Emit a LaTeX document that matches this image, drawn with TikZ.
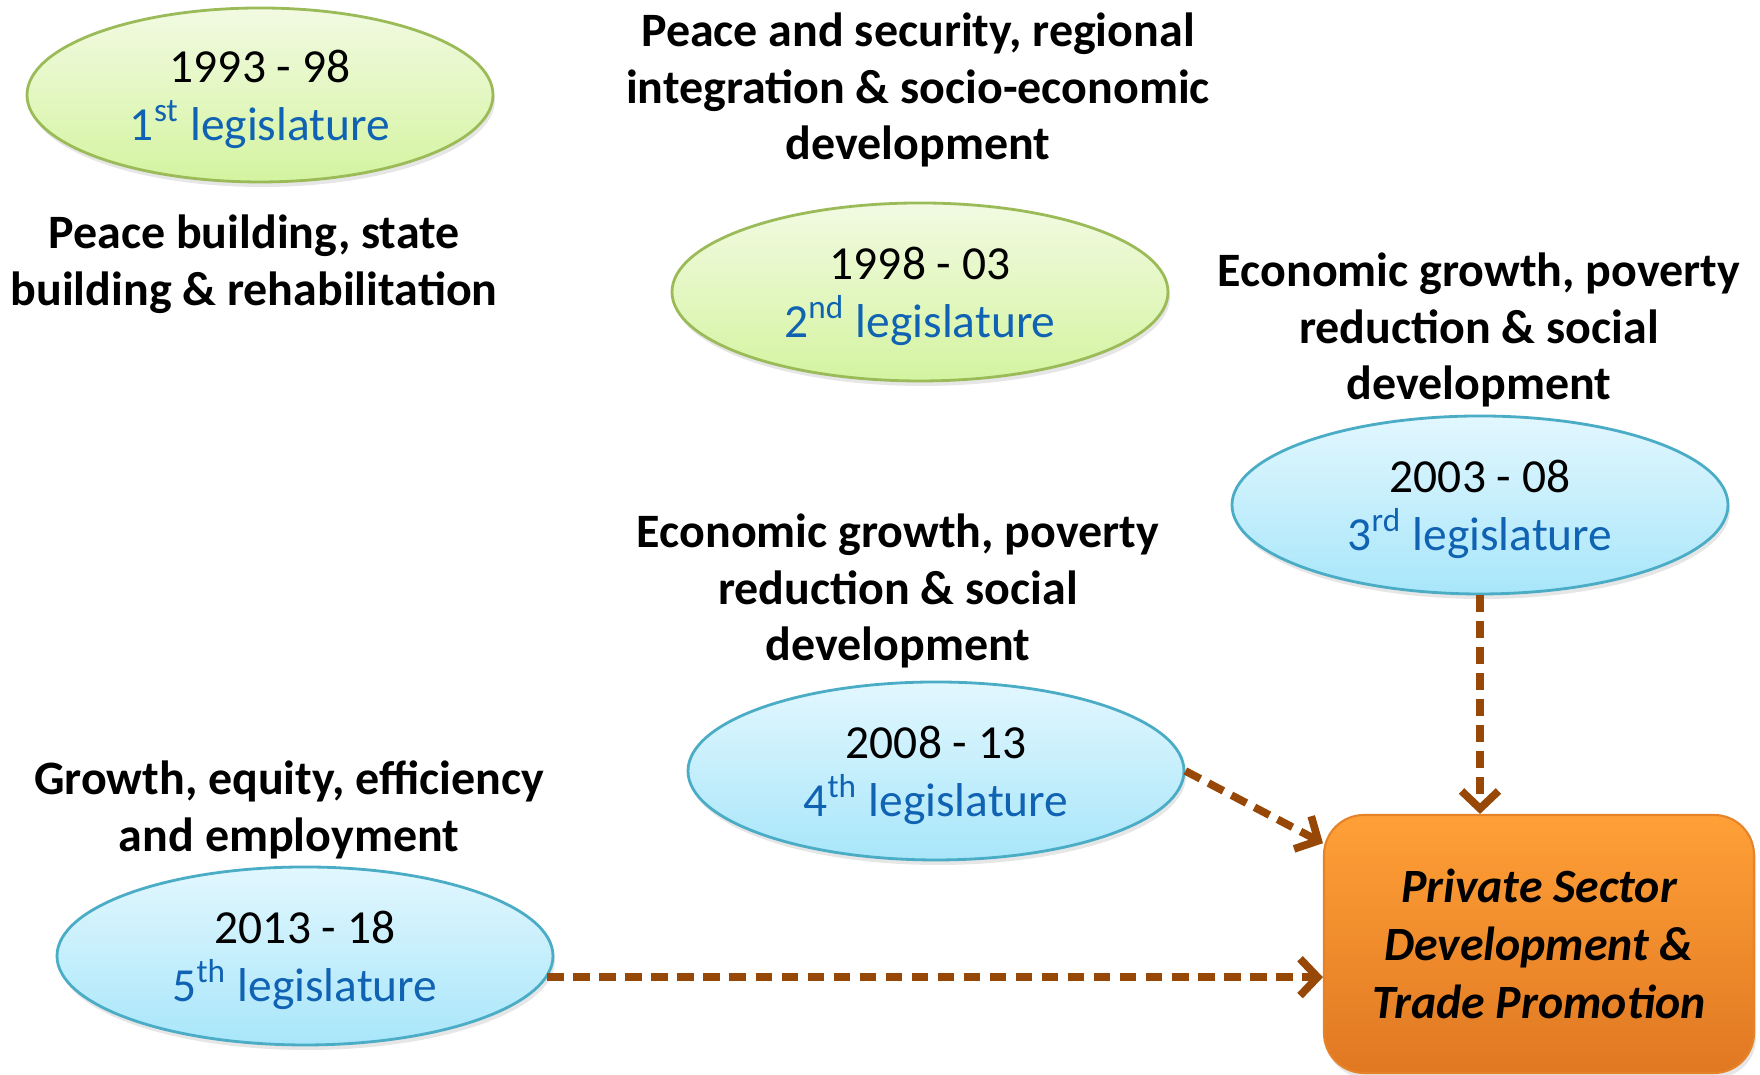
\documentclass[tikz,border=0pt]{standalone}
\usepackage{fontspec}
\setmainfont{Carlito}
\usepackage{tikz}
\usetikzlibrary{shapes.geometric,arrows.meta,shadows}

\definecolor{greentop}{RGB}{242,250,226}
\definecolor{greenbottom}{RGB}{212,244,160}
\definecolor{greenedge}{RGB}{155,187,89}
\definecolor{bluetop}{RGB}{226,247,254}
\definecolor{bluebottom}{RGB}{168,230,250}
\definecolor{blueedge}{RGB}{75,172,198}
\definecolor{legblue}{RGB}{16,98,178}
\definecolor{orangetop}{RGB}{255,160,55}
\definecolor{orangebottom}{RGB}{224,120,34}
\definecolor{orangeedge}{RGB}{230,130,40}
\definecolor{feedbrown}{RGB}{151,72,6}

\begin{document}
\begin{tikzpicture}[
        era/.style={ellipse, inner sep=0pt, line width=0.8pt, align=center,
            minimum width=4.96cm, minimum height=1.78cm, text depth=0pt,
            font=\fontsize{13.5}{16.6}\selectfont,
            drop shadow={shadow xshift=0.02cm, shadow yshift=-0.05cm, opacity=0.2}},
        earlyera/.style={era, draw=greenedge, top color=greentop, bottom color=greenbottom},
        lateera/.style={era, draw=blueedge, top color=bluetop, bottom color=bluebottom},
        theme/.style={align=center, font=\bfseries\fontsize{13.65}{16.2}\selectfont},
        goalbox/.style={rectangle, rounded corners=0.4cm, align=center, line width=0.6pt,
            minimum width=4.30cm, minimum height=2.58cm,
            draw=orangeedge, top color=orangetop, bottom color=orangebottom,
            drop shadow={shadow xshift=0.02cm, shadow yshift=-0.05cm, opacity=0.2},
            font=\bfseries\itshape\fontsize{13.6}{16.5}\selectfont},
        feed/.style={draw=feedbrown, line width=2.2pt, dash pattern=on 4.8pt off 2.6pt,
            -{Straight Barb[length=5pt,width=10.5pt]}}
    ]
        \useasboundingbox (0, 0) rectangle (17.6, 10.75);

        \node[earlyera, minimum width=4.66cm, minimum height=1.74cm] (leg1) at (2.60, 9.80)
            {1993 - 98\\ \textcolor{legblue}{1\textsuperscript{st} legislature}};
        \node[earlyera] (leg2) at (9.20, 7.83)
            {1998 - 03\\ \textcolor{legblue}{2\textsuperscript{nd} legislature}};
        \node[lateera] (leg3) at (14.80, 5.70)
            {2003 - 08\\ \textcolor{legblue}{3\textsuperscript{rd} legislature}};
        \node[lateera] (leg4) at (9.36, 3.04)
            {2008 - 13\\ \textcolor{legblue}{4\textsuperscript{th} legislature}};
        \node[lateera] (leg5) at (3.05, 1.19)
            {2013 - 18\\ \textcolor{legblue}{5\textsuperscript{th} legislature}};

        \node[theme] (theme1) at (2.54, 8.11) {Peace building, state\\ building \& rehabilitation};
        \node[theme] (theme2) at (9.18, 9.85) {Peace and security, regional\\ integration \& socio-economic\\ development};
        \node[theme] (theme3) at (14.79, 7.45) {Economic growth, poverty\\ reduction \& social\\ development};
        \node[theme] (theme4) at (8.98, 4.84) {Economic growth, poverty\\ reduction \& social\\ development};
        \node[theme] (theme5) at (2.89, 2.65) {Growth, equity, efficiency\\ and employment};

        \node[goalbox] (promotion) at (15.39, 1.31) {Private Sector\\ Development \&\\ Trade Promotion};

        \draw[feed] (leg3.south) -- (leg3.south |- promotion.north);
        \draw[feed] (leg4.east) -- (promotion.155);
        \draw[feed] (leg5.-5) -- (leg5.-5 -| promotion.west);
    \end{tikzpicture}
\end{document}
